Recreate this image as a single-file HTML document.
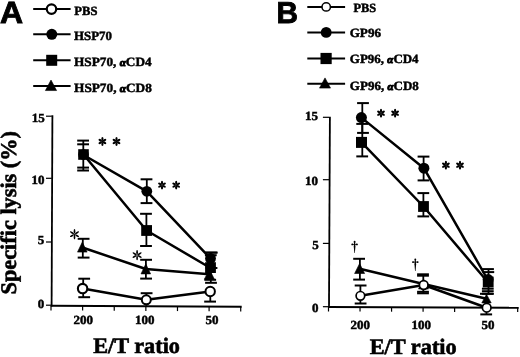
<!DOCTYPE html>
<html><head><meta charset="utf-8"><title>Figure</title>
<style>
html,body{margin:0;padding:0;background:#fff;}
body{width:520px;height:357px;overflow:hidden;font-family:"Liberation Serif",serif;}
svg{display:block;filter:grayscale(1);}
</style></head><body>
<svg width="520" height="357" viewBox="0 0 520 357">
<rect width="520" height="357" fill="#fff"/>
<line x1="33.2" y1="9.0" x2="70.6" y2="9.0" stroke="#000" stroke-width="2"/><circle cx="51.5" cy="9.1" r="4.75" fill="#fff" stroke="#000" stroke-width="2.2"/><line x1="33.2" y1="34.3" x2="70.6" y2="34.3" stroke="#000" stroke-width="2"/><circle cx="51.8" cy="34.3" r="5.5" fill="#000"/><line x1="33.2" y1="60.2" x2="70.6" y2="60.2" stroke="#000" stroke-width="2"/><rect x="46.2" y="54.800000000000004" width="11" height="11" fill="#000"/><line x1="33.2" y1="86.0" x2="70.6" y2="86.0" stroke="#000" stroke-width="2"/><path d="M51.0 80.05 L56.6 90.55 L45.4 90.55 Z" fill="#000" stroke="#000" stroke-width="0.6" stroke-linejoin="round"/><line x1="52.4" y1="115.3" x2="51.6" y2="306.6" stroke="#000" stroke-width="1.8"/><line x1="50.9" y1="305.75" x2="241.7" y2="306.8" stroke="#000" stroke-width="1.9"/><line x1="46.0" y1="116.2" x2="51.8" y2="116.2" stroke="#000" stroke-width="1.2"/><line x1="46.0" y1="178.3" x2="51.8" y2="178.3" stroke="#000" stroke-width="1.2"/><line x1="46.0" y1="242.0" x2="51.8" y2="242.0" stroke="#000" stroke-width="1.2"/><line x1="46.0" y1="305.2" x2="51.8" y2="305.2" stroke="#000" stroke-width="1.2"/><line x1="51.00" y1="305.80" x2="51.00" y2="310.40" stroke="#000" stroke-width="1.2"/><line x1="82.62" y1="305.97" x2="82.62" y2="310.57" stroke="#000" stroke-width="1.2"/><line x1="114.24" y1="306.13" x2="114.24" y2="310.73" stroke="#000" stroke-width="1.2"/><line x1="145.86" y1="306.30" x2="145.86" y2="310.90" stroke="#000" stroke-width="1.2"/><line x1="177.48" y1="306.47" x2="177.48" y2="311.07" stroke="#000" stroke-width="1.2"/><line x1="209.10" y1="306.63" x2="209.10" y2="311.23" stroke="#000" stroke-width="1.2"/><line x1="240.72" y1="306.80" x2="240.72" y2="311.40" stroke="#000" stroke-width="1.2"/><line x1="83.30" y1="140.6" x2="83.30" y2="170.5" stroke="#000" stroke-width="1.8"/><line x1="77.20" y1="140.6" x2="89.00" y2="140.6" stroke="#000" stroke-width="2.0"/><line x1="77.20" y1="170.5" x2="89.00" y2="170.5" stroke="#000" stroke-width="2.0"/><line x1="77.20" y1="144.3" x2="89.00" y2="144.3" stroke="#000" stroke-width="2.0"/><line x1="77.20" y1="167.6" x2="89.00" y2="167.6" stroke="#000" stroke-width="2.0"/><line x1="146.80" y1="179.3" x2="146.80" y2="203.1" stroke="#000" stroke-width="1.8"/><line x1="140.60" y1="179.3" x2="152.40" y2="179.3" stroke="#000" stroke-width="2.0"/><line x1="140.60" y1="203.1" x2="152.40" y2="203.1" stroke="#000" stroke-width="2.0"/><line x1="146.40" y1="213.8" x2="146.40" y2="246.0" stroke="#000" stroke-width="1.8"/><line x1="140.10" y1="213.8" x2="151.90" y2="213.8" stroke="#000" stroke-width="2.0"/><line x1="140.10" y1="246.0" x2="151.90" y2="246.0" stroke="#000" stroke-width="2.0"/><line x1="82.80" y1="238.8" x2="82.80" y2="257.6" stroke="#000" stroke-width="1.8"/><line x1="77.70" y1="238.8" x2="89.50" y2="238.8" stroke="#000" stroke-width="2.0"/><line x1="77.70" y1="257.6" x2="89.50" y2="257.6" stroke="#000" stroke-width="2.0"/><line x1="145.90" y1="259.8" x2="145.90" y2="278.6" stroke="#000" stroke-width="1.8"/><line x1="140.20" y1="259.8" x2="152.00" y2="259.8" stroke="#000" stroke-width="2.0"/><line x1="140.20" y1="278.6" x2="152.00" y2="278.6" stroke="#000" stroke-width="2.0"/><line x1="83.20" y1="278.7" x2="83.20" y2="297.2" stroke="#000" stroke-width="1.8"/><line x1="78.30" y1="278.7" x2="90.10" y2="278.7" stroke="#000" stroke-width="2.0"/><line x1="78.30" y1="297.2" x2="90.10" y2="297.2" stroke="#000" stroke-width="2.0"/><line x1="146.40" y1="293.2" x2="146.40" y2="305.8" stroke="#000" stroke-width="1.8"/><line x1="140.70" y1="293.2" x2="152.50" y2="293.2" stroke="#000" stroke-width="2.0"/><line x1="210.30" y1="291.5" x2="210.30" y2="301.6" stroke="#000" stroke-width="1.8"/><line x1="204.20" y1="301.6" x2="216.00" y2="301.6" stroke="#000" stroke-width="2.0"/><line x1="210.80" y1="252.6" x2="210.80" y2="282.8" stroke="#000" stroke-width="1.8"/><line x1="205.10" y1="252.6" x2="216.90" y2="252.6" stroke="#000" stroke-width="2.0"/><line x1="205.10" y1="282.8" x2="216.90" y2="282.8" stroke="#000" stroke-width="2.0"/><line x1="205.90" y1="252.6" x2="217.70" y2="252.6" stroke="#000" stroke-width="2.0"/><line x1="204.90" y1="255.2" x2="216.70" y2="255.2" stroke="#000" stroke-width="2.0"/><line x1="205.60" y1="268.0" x2="217.40" y2="268.0" stroke="#000" stroke-width="2.0"/><line x1="204.30" y1="279.8" x2="216.10" y2="279.8" stroke="#000" stroke-width="2.0"/><polyline points="83.5,155.0 146.8,191.3 210.5,258.5" fill="none" stroke="#000" stroke-width="2.5" stroke-linejoin="round"/><polyline points="83.5,154.5 146.6,230.5 210.5,268.0" fill="none" stroke="#000" stroke-width="2.5" stroke-linejoin="round"/><polyline points="82.4,247.5 145.8,269.0 209.5,274.3" fill="none" stroke="#000" stroke-width="2.5" stroke-linejoin="round"/><polyline points="82.6,288.6 146.3,299.8 210.2,291.5" fill="none" stroke="#000" stroke-width="2.5" stroke-linejoin="round"/><circle cx="83.5" cy="154.6" r="5.3" fill="#000"/><rect x="78.2" y="149.2" width="10.6" height="10.6" fill="#000"/><circle cx="146.8" cy="191.3" r="5.4" fill="#000"/><rect x="141.2" y="225.1" width="10.8" height="10.8" fill="#000"/><path d="M82.3 242.1 L87.1 252.1 L77.5 252.1 Z" fill="#000" stroke="#000" stroke-width="0.6" stroke-linejoin="round"/><path d="M145.8 263.9 L150.60000000000002 273.9 L141.0 273.9 Z" fill="#000" stroke="#000" stroke-width="0.6" stroke-linejoin="round"/><circle cx="82.6" cy="288.6" r="4.7" fill="#fff" stroke="#000" stroke-width="2.1"/><circle cx="146.3" cy="299.8" r="4.5" fill="#fff" stroke="#000" stroke-width="2.0"/><circle cx="210.5" cy="258.4" r="5.4" fill="#000"/><rect x="205.1" y="262.20000000000005" width="10.8" height="10.8" fill="#000"/><path d="M209.4 269.2 L214.4 279.2 L204.4 279.2 Z" fill="#000" stroke="#000" stroke-width="0.6" stroke-linejoin="round"/><circle cx="210.2" cy="291.5" r="4.7" fill="#fff" stroke="#000" stroke-width="2.0"/><g transform="translate(102.4 141.5)"><ellipse cx="0" cy="-2.46" rx="1.10" ry="1.94" transform="rotate(0)" fill="#000"/><ellipse cx="0" cy="-2.46" rx="1.10" ry="1.94" transform="rotate(60)" fill="#000"/><ellipse cx="0" cy="-2.46" rx="1.10" ry="1.94" transform="rotate(120)" fill="#000"/><ellipse cx="0" cy="-2.46" rx="1.10" ry="1.94" transform="rotate(180)" fill="#000"/><ellipse cx="0" cy="-2.46" rx="1.10" ry="1.94" transform="rotate(240)" fill="#000"/><ellipse cx="0" cy="-2.46" rx="1.10" ry="1.94" transform="rotate(300)" fill="#000"/><circle r="0.96" fill="#000"/></g><g transform="translate(116.5 141.5)"><ellipse cx="0" cy="-2.46" rx="1.10" ry="1.94" transform="rotate(0)" fill="#000"/><ellipse cx="0" cy="-2.46" rx="1.10" ry="1.94" transform="rotate(60)" fill="#000"/><ellipse cx="0" cy="-2.46" rx="1.10" ry="1.94" transform="rotate(120)" fill="#000"/><ellipse cx="0" cy="-2.46" rx="1.10" ry="1.94" transform="rotate(180)" fill="#000"/><ellipse cx="0" cy="-2.46" rx="1.10" ry="1.94" transform="rotate(240)" fill="#000"/><ellipse cx="0" cy="-2.46" rx="1.10" ry="1.94" transform="rotate(300)" fill="#000"/><circle r="0.96" fill="#000"/></g><g transform="translate(162.0 185.1)"><ellipse cx="0" cy="-2.46" rx="1.10" ry="1.94" transform="rotate(0)" fill="#000"/><ellipse cx="0" cy="-2.46" rx="1.10" ry="1.94" transform="rotate(60)" fill="#000"/><ellipse cx="0" cy="-2.46" rx="1.10" ry="1.94" transform="rotate(120)" fill="#000"/><ellipse cx="0" cy="-2.46" rx="1.10" ry="1.94" transform="rotate(180)" fill="#000"/><ellipse cx="0" cy="-2.46" rx="1.10" ry="1.94" transform="rotate(240)" fill="#000"/><ellipse cx="0" cy="-2.46" rx="1.10" ry="1.94" transform="rotate(300)" fill="#000"/><circle r="0.96" fill="#000"/></g><g transform="translate(176.2 185.1)"><ellipse cx="0" cy="-2.46" rx="1.10" ry="1.94" transform="rotate(0)" fill="#000"/><ellipse cx="0" cy="-2.46" rx="1.10" ry="1.94" transform="rotate(60)" fill="#000"/><ellipse cx="0" cy="-2.46" rx="1.10" ry="1.94" transform="rotate(120)" fill="#000"/><ellipse cx="0" cy="-2.46" rx="1.10" ry="1.94" transform="rotate(180)" fill="#000"/><ellipse cx="0" cy="-2.46" rx="1.10" ry="1.94" transform="rotate(240)" fill="#000"/><ellipse cx="0" cy="-2.46" rx="1.10" ry="1.94" transform="rotate(300)" fill="#000"/><circle r="0.96" fill="#000"/></g><g transform="translate(74.5 234.2)"><ellipse cx="0" cy="-2.91" rx="0.85" ry="2.29" transform="rotate(0)" fill="#000"/><ellipse cx="0" cy="-2.91" rx="0.85" ry="2.29" transform="rotate(60)" fill="#000"/><ellipse cx="0" cy="-2.91" rx="0.85" ry="2.29" transform="rotate(120)" fill="#000"/><ellipse cx="0" cy="-2.91" rx="0.85" ry="2.29" transform="rotate(180)" fill="#000"/><ellipse cx="0" cy="-2.91" rx="0.85" ry="2.29" transform="rotate(240)" fill="#000"/><ellipse cx="0" cy="-2.91" rx="0.85" ry="2.29" transform="rotate(300)" fill="#000"/><circle r="0.74" fill="#000"/></g><g transform="translate(137.1 255.1)"><ellipse cx="0" cy="-2.91" rx="0.85" ry="2.29" transform="rotate(0)" fill="#000"/><ellipse cx="0" cy="-2.91" rx="0.85" ry="2.29" transform="rotate(60)" fill="#000"/><ellipse cx="0" cy="-2.91" rx="0.85" ry="2.29" transform="rotate(120)" fill="#000"/><ellipse cx="0" cy="-2.91" rx="0.85" ry="2.29" transform="rotate(180)" fill="#000"/><ellipse cx="0" cy="-2.91" rx="0.85" ry="2.29" transform="rotate(240)" fill="#000"/><ellipse cx="0" cy="-2.91" rx="0.85" ry="2.29" transform="rotate(300)" fill="#000"/><circle r="0.74" fill="#000"/></g>
<line x1="307.3" y1="6.9" x2="345.1" y2="6.9" stroke="#000" stroke-width="2"/><circle cx="326.2" cy="6.9" r="4.2" fill="#fff" stroke="#000" stroke-width="1.5"/><line x1="307.3" y1="32.4" x2="345.1" y2="32.4" stroke="#000" stroke-width="2"/><circle cx="326.2" cy="32.4" r="5.4" fill="#000"/><line x1="307.3" y1="58.5" x2="345.1" y2="58.5" stroke="#000" stroke-width="2"/><rect x="320.5" y="52.9" width="11.2" height="11.2" fill="#000"/><line x1="307.3" y1="83.8" x2="345.1" y2="83.8" stroke="#000" stroke-width="2"/><path d="M325.0 77.9 L330.5 88.1 L319.5 88.1 Z" fill="#000" stroke="#000" stroke-width="0.6" stroke-linejoin="round"/><line x1="329.9" y1="116.7" x2="329.0" y2="308.0" stroke="#000" stroke-width="1.8"/><line x1="328.2" y1="307.05" x2="518.7" y2="307.75" stroke="#000" stroke-width="1.9"/><line x1="322.9" y1="117.3" x2="329.0" y2="117.3" stroke="#000" stroke-width="1.2"/><line x1="322.9" y1="179.7" x2="329.0" y2="179.7" stroke="#000" stroke-width="1.2"/><line x1="322.9" y1="243.4" x2="329.0" y2="243.4" stroke="#000" stroke-width="1.2"/><line x1="322.9" y1="306.7" x2="329.0" y2="306.7" stroke="#000" stroke-width="1.2"/><line x1="328.50" y1="307.10" x2="328.50" y2="311.50" stroke="#000" stroke-width="1.2"/><line x1="360.03" y1="307.20" x2="360.03" y2="311.60" stroke="#000" stroke-width="1.2"/><line x1="391.56" y1="307.30" x2="391.56" y2="311.70" stroke="#000" stroke-width="1.2"/><line x1="423.09" y1="307.40" x2="423.09" y2="311.80" stroke="#000" stroke-width="1.2"/><line x1="454.62" y1="307.50" x2="454.62" y2="311.90" stroke="#000" stroke-width="1.2"/><line x1="486.15" y1="307.60" x2="486.15" y2="312.00" stroke="#000" stroke-width="1.2"/><line x1="517.68" y1="307.70" x2="517.68" y2="312.10" stroke="#000" stroke-width="1.2"/><line x1="362.30" y1="103.1" x2="362.30" y2="132.9" stroke="#000" stroke-width="1.8"/><line x1="357.10" y1="103.1" x2="368.90" y2="103.1" stroke="#000" stroke-width="2.0"/><line x1="357.10" y1="132.9" x2="368.90" y2="132.9" stroke="#000" stroke-width="2.0"/><line x1="362.30" y1="123.9" x2="362.30" y2="156.4" stroke="#000" stroke-width="1.8"/><line x1="356.30" y1="123.9" x2="368.10" y2="123.9" stroke="#000" stroke-width="2.0"/><line x1="356.30" y1="156.4" x2="368.10" y2="156.4" stroke="#000" stroke-width="2.0"/><line x1="423.60" y1="156.6" x2="423.60" y2="180.4" stroke="#000" stroke-width="1.8"/><line x1="417.60" y1="156.6" x2="429.40" y2="156.6" stroke="#000" stroke-width="2.0"/><line x1="417.60" y1="180.4" x2="429.40" y2="180.4" stroke="#000" stroke-width="2.0"/><line x1="423.40" y1="193.1" x2="423.40" y2="216.4" stroke="#000" stroke-width="1.8"/><line x1="417.40" y1="193.1" x2="429.20" y2="193.1" stroke="#000" stroke-width="2.0"/><line x1="417.40" y1="216.4" x2="429.20" y2="216.4" stroke="#000" stroke-width="2.0"/><line x1="359.90" y1="258.8" x2="359.90" y2="279.6" stroke="#000" stroke-width="1.8"/><line x1="353.20" y1="258.8" x2="365.00" y2="258.8" stroke="#000" stroke-width="2.0"/><line x1="353.20" y1="279.6" x2="365.00" y2="279.6" stroke="#000" stroke-width="2.0"/><line x1="360.40" y1="285.5" x2="360.40" y2="303.5" stroke="#000" stroke-width="1.8"/><line x1="354.70" y1="285.5" x2="366.50" y2="285.5" stroke="#000" stroke-width="2.0"/><line x1="354.70" y1="303.5" x2="366.50" y2="303.5" stroke="#000" stroke-width="2.0"/><line x1="423.30" y1="274.3" x2="423.30" y2="293.3" stroke="#000" stroke-width="1.8"/><line x1="417.10" y1="274.3" x2="428.90" y2="274.3" stroke="#000" stroke-width="2.0"/><line x1="417.10" y1="293.3" x2="428.90" y2="293.3" stroke="#000" stroke-width="2.0"/><line x1="417.10" y1="275.7" x2="428.90" y2="275.7" stroke="#000" stroke-width="2.0"/><line x1="417.10" y1="291.8" x2="428.90" y2="291.8" stroke="#000" stroke-width="2.0"/><line x1="488.50" y1="269.1" x2="488.50" y2="293.8" stroke="#000" stroke-width="1.8"/><line x1="482.10" y1="269.1" x2="493.90" y2="269.1" stroke="#000" stroke-width="2.0"/><line x1="482.10" y1="293.8" x2="493.90" y2="293.8" stroke="#000" stroke-width="2.0"/><line x1="482.40" y1="272.1" x2="494.20" y2="272.1" stroke="#000" stroke-width="2.0"/><line x1="481.90" y1="288.7" x2="493.70" y2="288.7" stroke="#000" stroke-width="2.0"/><line x1="481.90" y1="291.2" x2="493.70" y2="291.2" stroke="#000" stroke-width="2.0"/><line x1="480.00" y1="293.8" x2="493.00" y2="293.8" stroke="#000" stroke-width="2.0"/><line x1="486.50" y1="307.7" x2="486.50" y2="314.4" stroke="#000" stroke-width="1.8"/><line x1="480.30" y1="314.4" x2="492.10" y2="314.4" stroke="#000" stroke-width="2.0"/><polyline points="361.4,117.6 423.9,168.2 488.2,280.5" fill="none" stroke="#000" stroke-width="2.5" stroke-linejoin="round"/><polyline points="361.5,142.4 423.5,206.5 488.2,282.5" fill="none" stroke="#000" stroke-width="2.5" stroke-linejoin="round"/><polyline points="359.6,268.8 423.5,284.0 486.5,298.8" fill="none" stroke="#000" stroke-width="2.5" stroke-linejoin="round"/><polyline points="360.4,295.8 423.7,285.0 486.7,307.7" fill="none" stroke="#000" stroke-width="2.5" stroke-linejoin="round"/><circle cx="361.4" cy="117.6" r="5.5" fill="#000"/><rect x="356.0" y="136.9" width="11.0" height="11.0" fill="#000"/><circle cx="423.9" cy="168.2" r="5.5" fill="#000"/><rect x="418.1" y="201.1" width="10.8" height="10.8" fill="#000"/><path d="M359.6 263.5 L364.6 273.5 L354.6 273.5 Z" fill="#000" stroke="#000" stroke-width="0.6" stroke-linejoin="round"/><circle cx="360.4" cy="295.8" r="4.3" fill="#fff" stroke="#000" stroke-width="1.7"/><path d="M423.5 279.0 L428.5 289.0 L418.5 289.0 Z" fill="#000" stroke="#000" stroke-width="0.6" stroke-linejoin="round"/><circle cx="423.7" cy="285.0" r="4.3" fill="#fff" stroke="#000" stroke-width="1.7"/><circle cx="488.2" cy="279.5" r="5.4" fill="#000"/><rect x="482.8" y="276.6" width="10.8" height="10.8" fill="#000"/><path d="M486.5 294.3 L491.2 302.90000000000003 L481.8 302.90000000000003 Z" fill="#000" stroke="#000" stroke-width="0.6" stroke-linejoin="round"/><circle cx="486.7" cy="307.7" r="4.3" fill="#fff" stroke="#000" stroke-width="1.7"/><g transform="translate(381.0 113.2)"><ellipse cx="0" cy="-2.46" rx="1.10" ry="1.94" transform="rotate(0)" fill="#000"/><ellipse cx="0" cy="-2.46" rx="1.10" ry="1.94" transform="rotate(60)" fill="#000"/><ellipse cx="0" cy="-2.46" rx="1.10" ry="1.94" transform="rotate(120)" fill="#000"/><ellipse cx="0" cy="-2.46" rx="1.10" ry="1.94" transform="rotate(180)" fill="#000"/><ellipse cx="0" cy="-2.46" rx="1.10" ry="1.94" transform="rotate(240)" fill="#000"/><ellipse cx="0" cy="-2.46" rx="1.10" ry="1.94" transform="rotate(300)" fill="#000"/><circle r="0.96" fill="#000"/></g><g transform="translate(395.1 113.2)"><ellipse cx="0" cy="-2.46" rx="1.10" ry="1.94" transform="rotate(0)" fill="#000"/><ellipse cx="0" cy="-2.46" rx="1.10" ry="1.94" transform="rotate(60)" fill="#000"/><ellipse cx="0" cy="-2.46" rx="1.10" ry="1.94" transform="rotate(120)" fill="#000"/><ellipse cx="0" cy="-2.46" rx="1.10" ry="1.94" transform="rotate(180)" fill="#000"/><ellipse cx="0" cy="-2.46" rx="1.10" ry="1.94" transform="rotate(240)" fill="#000"/><ellipse cx="0" cy="-2.46" rx="1.10" ry="1.94" transform="rotate(300)" fill="#000"/><circle r="0.96" fill="#000"/></g><g transform="translate(445.9 165.2)"><ellipse cx="0" cy="-2.46" rx="1.10" ry="1.94" transform="rotate(0)" fill="#000"/><ellipse cx="0" cy="-2.46" rx="1.10" ry="1.94" transform="rotate(60)" fill="#000"/><ellipse cx="0" cy="-2.46" rx="1.10" ry="1.94" transform="rotate(120)" fill="#000"/><ellipse cx="0" cy="-2.46" rx="1.10" ry="1.94" transform="rotate(180)" fill="#000"/><ellipse cx="0" cy="-2.46" rx="1.10" ry="1.94" transform="rotate(240)" fill="#000"/><ellipse cx="0" cy="-2.46" rx="1.10" ry="1.94" transform="rotate(300)" fill="#000"/><circle r="0.96" fill="#000"/></g><g transform="translate(460.0 165.2)"><ellipse cx="0" cy="-2.46" rx="1.10" ry="1.94" transform="rotate(0)" fill="#000"/><ellipse cx="0" cy="-2.46" rx="1.10" ry="1.94" transform="rotate(60)" fill="#000"/><ellipse cx="0" cy="-2.46" rx="1.10" ry="1.94" transform="rotate(120)" fill="#000"/><ellipse cx="0" cy="-2.46" rx="1.10" ry="1.94" transform="rotate(180)" fill="#000"/><ellipse cx="0" cy="-2.46" rx="1.10" ry="1.94" transform="rotate(240)" fill="#000"/><ellipse cx="0" cy="-2.46" rx="1.10" ry="1.94" transform="rotate(300)" fill="#000"/><circle r="0.96" fill="#000"/></g><g fill="#000"><ellipse cx="354.6" cy="241.90" rx="0.95" ry="1.1"/><line x1="352.20" y1="244.40" x2="357.00" y2="244.40" stroke="#000" stroke-width="0.8"/><ellipse cx="352.30" cy="244.40" rx="1.0" ry="0.85"/><ellipse cx="356.90" cy="244.40" rx="1.0" ry="0.85"/><path d="M354.15 242.30 L355.05 242.30 L355.45 246.60 L354.85 253.10 L354.35 253.10 L353.75 246.60 Z"/></g><g fill="#000"><ellipse cx="415.3" cy="259.60" rx="0.95" ry="1.1"/><line x1="412.90" y1="262.10" x2="417.70" y2="262.10" stroke="#000" stroke-width="0.8"/><ellipse cx="413.00" cy="262.10" rx="1.0" ry="0.85"/><ellipse cx="417.60" cy="262.10" rx="1.0" ry="0.85"/><path d="M414.85 260.00 L415.75 260.00 L416.15 264.30 L415.55 271.10 L415.05 271.10 L414.45 264.30 Z"/></g>
<g text-rendering="geometricPrecision"><text transform="translate(74.331 14.557) scale(0.9986 1)" font-family="Liberation Serif" font-weight="bold" font-size="12.58" stroke="#000" stroke-width="0.45">PBS</text><text transform="translate(74.062 40.168) scale(1.0233 1)" font-family="Liberation Serif" font-weight="bold" font-size="12.58" stroke="#000" stroke-width="0.45">HSP70</text><text transform="translate(74.059 65.968) scale(1.0517 1)" font-family="Liberation Serif" font-weight="bold" font-size="12.58" stroke="#000" stroke-width="0.45">HSP70, <tspan font-style="italic" font-size="10.69" stroke-width="0.9">α</tspan>CD4</text><text transform="translate(74.058 91.868) scale(1.0549 1)" font-family="Liberation Serif" font-weight="bold" font-size="12.58" stroke="#000" stroke-width="0.45">HSP70, <tspan font-style="italic" font-size="10.69" stroke-width="0.9">α</tspan>CD8</text><text transform="translate(353.433 11.507) scale(0.9854 1)" font-family="Liberation Serif" font-weight="bold" font-size="12.58" stroke="#000" stroke-width="0.45">PBS</text><text transform="translate(349.666 37.108) scale(1.043 1)" font-family="Liberation Serif" font-weight="bold" font-size="12.58" stroke="#000" stroke-width="0.45">GP96</text><text transform="translate(349.871 62.958) scale(1.03 1)" font-family="Liberation Serif" font-weight="bold" font-size="12.58" stroke="#000" stroke-width="0.45">GP96, <tspan font-style="italic" font-size="10.69" stroke-width="0.9">α</tspan>CD4</text><text transform="translate(349.87 89.858) scale(1.0335 1)" font-family="Liberation Serif" font-weight="bold" font-size="12.58" stroke="#000" stroke-width="0.45">GP96, <tspan font-style="italic" font-size="10.69" stroke-width="0.9">α</tspan>CD8</text><text transform="translate(31.86 121.542) scale(1.0498 1)" font-family="Liberation Serif" font-weight="bold" font-size="12.404" stroke="#000" stroke-width="0.45">15</text><text transform="translate(31.56 184.24) scale(1.0498 1)" font-family="Liberation Serif" font-weight="bold" font-size="12.404" stroke="#000" stroke-width="0.45">10</text><text transform="translate(37.856 244.404) scale(1.0498 1)" font-family="Liberation Serif" font-weight="bold" font-size="12.404" stroke="#000" stroke-width="0.45">5</text><text transform="translate(37.64 308.228) scale(1.0498 1)" font-family="Liberation Serif" font-weight="bold" font-size="12.404" stroke="#000" stroke-width="0.45">0</text><text transform="translate(73.513 324.133) scale(1.0498 1)" font-family="Liberation Serif" font-weight="bold" font-size="12.404" stroke="#000" stroke-width="0.45">200</text><text transform="translate(135.042 324.215) scale(1.0498 1)" font-family="Liberation Serif" font-weight="bold" font-size="12.404" stroke="#000" stroke-width="0.45">100</text><text transform="translate(205.49 324.466) scale(1.0498 1)" font-family="Liberation Serif" font-weight="bold" font-size="12.404" stroke="#000" stroke-width="0.45">50</text><text transform="translate(304.96 120.142) scale(1.0498 1)" font-family="Liberation Serif" font-weight="bold" font-size="12.404" stroke="#000" stroke-width="0.45">15</text><text transform="translate(305.06 184.89) scale(1.0498 1)" font-family="Liberation Serif" font-weight="bold" font-size="12.404" stroke="#000" stroke-width="0.45">10</text><text transform="translate(312.206 248.804) scale(1.0498 1)" font-family="Liberation Serif" font-weight="bold" font-size="12.404" stroke="#000" stroke-width="0.45">5</text><text transform="translate(312.04 312.328) scale(1.0498 1)" font-family="Liberation Serif" font-weight="bold" font-size="12.404" stroke="#000" stroke-width="0.45">0</text><text transform="translate(350.463 328.633) scale(1.0498 1)" font-family="Liberation Serif" font-weight="bold" font-size="12.404" stroke="#000" stroke-width="0.45">200</text><text transform="translate(411.542 328.64) scale(1.0498 1)" font-family="Liberation Serif" font-weight="bold" font-size="12.404" stroke="#000" stroke-width="0.45">100</text><text transform="translate(481.615 328.841) scale(1.0498 1)" font-family="Liberation Serif" font-weight="bold" font-size="12.404" stroke="#000" stroke-width="0.45">50</text><text transform="translate(93.152 353.299) scale(1.0083 1)" font-family="Liberation Serif" font-weight="bold" font-size="22.109" stroke="#000" stroke-width="0.6">E/T ratio</text><text transform="translate(369.652 353.649) scale(1.0106 1)" font-family="Liberation Serif" font-weight="bold" font-size="22.109" stroke="#000" stroke-width="0.6">E/T ratio</text><text transform="rotate(-90) translate(-294.503 15.902) scale(1.0 1)" font-family="Liberation Serif" font-weight="bold" font-size="22.3" stroke="#000" stroke-width="0.6">Specific lysis (%)</text><text transform="translate(-0.039 23.185) scale(1.0398 1)" font-family="Liberation Sans" font-weight="bold" font-size="30.725" stroke="#000" stroke-width="0.9">A</text><text transform="translate(276.411 23.053) scale(0.9888 1)" font-family="Liberation Sans" font-weight="bold" font-size="30.145" stroke="#000" stroke-width="0.9">B</text></g>
</svg>
</body></html>
